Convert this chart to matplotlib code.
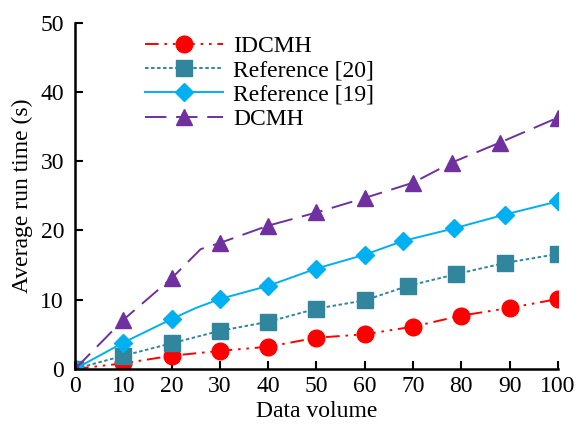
import matplotlib
matplotlib.use("Agg")
import matplotlib.pyplot as plt

plt.rcParams['font.family'] = ['Liberation Serif', 'DejaVu Serif']
plt.rcParams['mathtext.fontset'] = 'stix'

# data (one unmarked bend point near x=25 on two curves)
x_idcmh = [0, 10, 20, 30, 40, 50, 60, 70, 80, 90, 100]
y_idcmh = [0, 0.8, 1.9, 2.6, 3.2, 4.5, 5.0, 6.1, 7.7, 8.8, 10.1]

x_ref20 = [0, 10, 20, 30, 40, 50, 60, 69, 79, 89, 100]
y_ref20 = [0, 1.9, 3.7, 5.5, 6.8, 8.7, 9.9, 12.0, 13.7, 15.3, 16.6]

x_ref19 = [0, 10, 20, 25, 30, 40, 50, 60, 68, 78.5, 89, 100]
y_ref19 = [0, 3.8, 7.2, 8.8, 10.1, 12.0, 14.5, 16.5, 18.5, 20.3, 22.3, 24.2]
mark_ref19 = [0, 1, 2, 4, 5, 6, 7, 8, 9, 10, 11]

x_dcmh = [0, 10, 20, 26, 30, 40, 50, 60, 70, 78, 88, 100]
y_dcmh = [0, 7.1, 13.1, 17.3, 18.2, 20.7, 22.6, 24.7, 26.9, 29.8, 32.7, 36.3]
mark_dcmh = [0, 1, 2, 4, 5, 6, 7, 8, 9, 10, 11]

fig = plt.figure(figsize=(5.78, 4.24), dpi=100)
ax = fig.add_axes([0.130, 0.130, 0.835, 0.816])

ax.plot(x_idcmh, y_idcmh, color='#FF0000', lw=1.4, dashes=(7, 3, 1.3, 3, 1.3, 3),
        marker='o', ms=12, label='IDCMH')
ax.plot(x_ref20, y_ref20, color='#31859C', lw=1.4, dashes=(1.8, 1.3),
        marker='s', ms=12, label='Reference [20]')
ax.plot(x_ref19, y_ref19, color='#00B0F0', lw=1.4, linestyle='-',
        marker='D', ms=9, markevery=mark_ref19, label='Reference [19]')
ax.plot(x_dcmh, y_dcmh, color='#7030A0', lw=1.4, dashes=(11, 5),
        marker='^', ms=11, markevery=mark_dcmh, label='DCMH')

ax.set_xlim(0, 100)
ax.set_ylim(0, 50)
ax.set_xticks(range(0, 101, 10))
ax.set_yticks(range(0, 51, 10))
ax.tick_params(direction='in', labelsize=17, width=1.5, length=6)
ax.tick_params(axis='x', pad=5)
ax.tick_params(axis='y', pad=8)
for s in ['top', 'right']:
    ax.spines[s].set_visible(False)
for s in ['left', 'bottom']:
    ax.spines[s].set_linewidth(1.8)

ax.set_xlabel('Data volume', fontsize=17, labelpad=3)
ax.set_ylabel('Average run time (s)', fontsize=17, labelpad=5)

ax.legend(loc='upper left', bbox_to_anchor=(0.10, 1.025), frameon=False,
          fontsize=17, handlelength=3.3, handletextpad=0.45, labelspacing=0.12)

fig.savefig('out.png', dpi=100)
